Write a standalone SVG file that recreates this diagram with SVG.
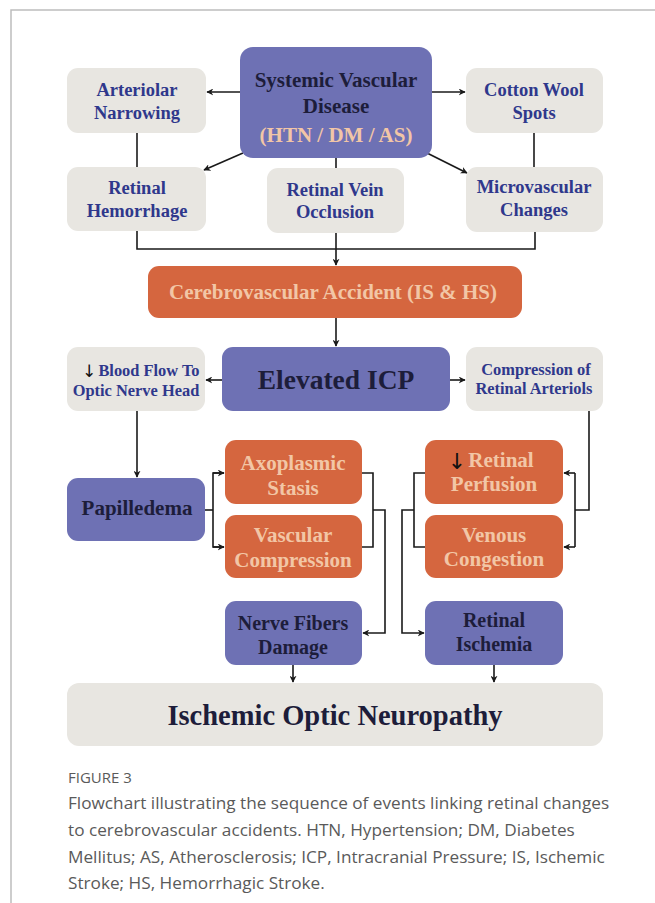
<svg xmlns="http://www.w3.org/2000/svg" width="655" height="903" viewBox="0 0 655 903">
<style>
.p{fill:#6e71b4}
.o{fill:#d5663f}
.g{fill:#e8e6e1}
.t{font-family:"Liberation Serif",serif;font-weight:bold;text-anchor:middle}
.dk{fill:#1d1d3a}
.bl{fill:#2f388c}
.pc{fill:#f2c6a6}
.ar{font-family:"DejaVu Sans",sans-serif;fill:#111;text-anchor:middle}
.c{fill:none;stroke:#1a1a1a;stroke-width:1.6}
.cap{font-family:"Open Sans",sans-serif;fill:#5a5a5a}
</style>
<defs>
<marker id="a" viewBox="0 0 10 10" refX="9" refY="5" markerWidth="7" markerHeight="7" markerUnits="userSpaceOnUse" orient="auto">
<path d="M0,0 L10,5 L0,10 L3,5 z" fill="#1a1a1a"/>
</marker>
</defs>
<rect width="655" height="903" fill="#fff"/>
<path d="M11,903 V10 H655" fill="none" stroke="#bdbdbd" stroke-width="1.5"/>

<g id="connectors">
<line class="c" x1="240" y1="92" x2="207" y2="92" marker-end="url(#a)"/>
<line class="c" x1="432" y1="92" x2="465" y2="92" marker-end="url(#a)"/>
<line class="c" x1="243" y1="153" x2="204" y2="170" marker-end="url(#a)"/>
<line class="c" x1="427" y1="153" x2="467" y2="173" marker-end="url(#a)"/>
<line class="c" x1="137" y1="133" x2="137" y2="167"/>
<line class="c" x1="534" y1="133" x2="534" y2="167"/>
<line class="c" x1="336" y1="158" x2="336" y2="168"/>
<path class="c" d="M137,231 V249 H535 V232"/>
<line class="c" x1="336" y1="233" x2="336" y2="265" marker-end="url(#a)"/>
<line class="c" x1="336" y1="318" x2="336" y2="346" marker-end="url(#a)"/>
<line class="c" x1="222" y1="380" x2="206" y2="380" marker-end="url(#a)"/>
<line class="c" x1="450" y1="380" x2="465" y2="380" marker-end="url(#a)"/>
<line class="c" x1="137" y1="411" x2="137" y2="477" marker-end="url(#a)"/>
<path class="c" d="M205,510 H213"/>
<path class="c" d="M224,473 H213 V547 H224"/>
<line class="c" x1="213" y1="473" x2="224" y2="473" marker-end="url(#a)"/>
<line class="c" x1="213" y1="547" x2="224" y2="547" marker-end="url(#a)"/>
<path class="c" d="M362,473 H373 V547 H362"/>
<path class="c" d="M373,510 H385 V633 H363" marker-end="url(#a)"/>
<path class="c" d="M589,411 V510 H575"/>
<path class="c" d="M575,473 V547"/>
<line class="c" x1="575" y1="473" x2="564" y2="473" marker-end="url(#a)"/>
<line class="c" x1="575" y1="547" x2="564" y2="547" marker-end="url(#a)"/>
<path class="c" d="M425,473 H414 V547 H425"/>
<path class="c" d="M414,510 H402 V633 H424" marker-end="url(#a)"/>
<line class="c" x1="293" y1="665" x2="293" y2="682" marker-end="url(#a)"/>
<line class="c" x1="494" y1="665" x2="494" y2="682" marker-end="url(#a)"/>
</g>

<g id="svd"><rect class="p" x="240" y="47" width="192" height="111" rx="13"/>
<text class="t dk" x="336" y="87" font-size="21">Systemic Vascular</text>
<text class="t dk" x="336" y="113" font-size="21">Disease</text>
<text class="t pc" x="336" y="142" font-size="21">(HTN / DM / AS)</text></g>

<g id="arteriolar"><rect class="g" x="67" y="68" width="139" height="65" rx="11"/>
<text class="t bl" x="137" y="96" font-size="18.5">Arteriolar</text>
<text class="t bl" x="137" y="119" font-size="18.5">Narrowing</text></g>

<g id="hemorrhage"><rect class="g" x="67" y="167" width="139" height="64" rx="11"/>
<text class="t bl" x="137" y="194" font-size="18.5">Retinal</text>
<text class="t bl" x="137" y="217" font-size="18.5">Hemorrhage</text></g>

<g id="rvo"><rect class="g" x="267" y="168" width="137" height="65" rx="11"/>
<text class="t bl" x="335" y="196" font-size="18.5">Retinal Vein</text>
<text class="t bl" x="335" y="218" font-size="18.5">Occlusion</text></g>

<g id="cotton"><rect class="g" x="466" y="68" width="137" height="65" rx="11"/>
<text class="t bl" x="534" y="96" font-size="18.5">Cotton Wool</text>
<text class="t bl" x="534" y="119" font-size="18.5">Spots</text></g>

<g id="micro"><rect class="g" x="466" y="167" width="137" height="65" rx="11"/>
<text class="t bl" x="534" y="193" font-size="18.5">Microvascular</text>
<text class="t bl" x="534" y="216" font-size="18.5">Changes</text></g>

<g id="cva"><rect class="o" x="148" y="266" width="374" height="52" rx="11"/>
<text class="t pc" x="333" y="299" font-size="21">Cerebrovascular Accident (IS &amp; HS)</text></g>

<g id="icp"><rect class="p" x="222" y="347" width="228" height="64" rx="11"/>
<text class="t dk" x="336" y="389" font-size="27.5">Elevated ICP</text></g>

<g id="bloodflow"><rect class="g" x="67" y="347" width="138" height="64" rx="11"/>
<text class="ar" x="89" y="377" font-size="17">↓</text>
<text class="t bl" x="149" y="376" font-size="16.4">Blood Flow To</text>
<text class="t bl" x="136" y="396" font-size="16.4">Optic Nerve Head</text></g>

<g id="compression"><rect class="g" x="466" y="347" width="137" height="64" rx="11"/>
<text class="t bl" x="536" y="375" font-size="16.4">Compression of</text>
<text class="t bl" x="534" y="394" font-size="16.4">Retinal Arteriols</text></g>

<g id="papilledema"><rect class="p" x="67" y="478" width="138" height="63" rx="11"/>
<text class="t dk" x="137" y="515" font-size="21">Papilledema</text></g>

<g id="axoplasmic"><rect class="o" x="225" y="440" width="137" height="64" rx="11"/>
<text class="t pc" x="293" y="470" font-size="21">Axoplasmic</text>
<text class="t pc" x="293" y="495" font-size="21">Stasis</text></g>

<g id="vascomp"><rect class="o" x="225" y="515" width="137" height="63" rx="11"/>
<text class="t pc" x="293" y="542" font-size="21">Vascular</text>
<text class="t pc" x="293" y="567" font-size="21">Compression</text></g>

<g id="perfusion"><rect class="o" x="425" y="440" width="138" height="64" rx="11"/>
<text class="ar" x="457" y="469" font-size="22">↓</text>
<text class="t pc" x="501" y="467" font-size="21">Retinal</text>
<text class="t pc" x="494" y="491" font-size="21">Perfusion</text></g>

<g id="venous"><rect class="o" x="425" y="515" width="138" height="63" rx="11"/>
<text class="t pc" x="494" y="542" font-size="21">Venous</text>
<text class="t pc" x="494" y="566" font-size="21">Congestion</text></g>

<g id="nerve"><rect class="p" x="225" y="601" width="137" height="64" rx="11"/>
<text class="t dk" x="293" y="630" font-size="20">Nerve Fibers</text>
<text class="t dk" x="293" y="654" font-size="20">Damage</text></g>

<g id="ischemia"><rect class="p" x="425" y="601" width="138" height="64" rx="11"/>
<text class="t dk" x="494" y="627" font-size="20">Retinal</text>
<text class="t dk" x="494" y="651" font-size="20">Ischemia</text></g>

<g id="ion"><rect class="g" x="67" y="683" width="536" height="63" rx="12"/>
<text class="t dk" x="335" y="725" font-size="28.5">Ischemic Optic Neuropathy</text></g>

<g id="caption">
<text class="cap" x="68" y="783" font-size="15" fill="#666">FIGURE 3</text>
<text class="cap" x="68" y="809" font-size="17.2">Flowchart illustrating the sequence of events linking retinal changes</text>
<text class="cap" x="68" y="836" font-size="17.2">to cerebrovascular accidents. HTN, Hypertension; DM, Diabetes</text>
<text class="cap" x="68" y="863" font-size="17.2">Mellitus; AS, Atherosclerosis; ICP, Intracranial Pressure; IS, Ischemic</text>
<text class="cap" x="68" y="889" font-size="17.2">Stroke; HS, Hemorrhagic Stroke.</text>
</g>
</svg>
